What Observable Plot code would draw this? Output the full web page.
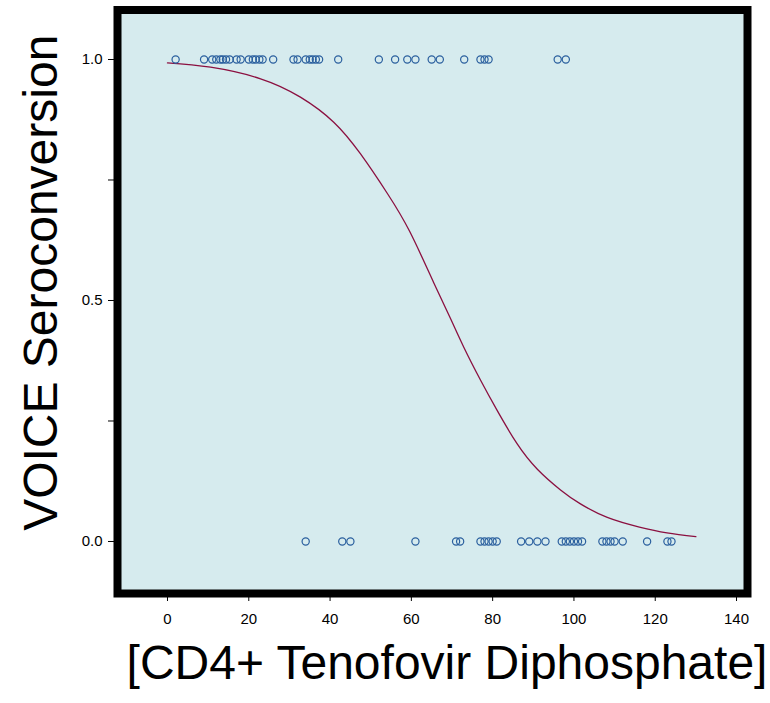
<!DOCTYPE html>
<html><head><meta charset="utf-8">
<script src="https://cdn.jsdelivr.net/npm/d3@7"></script>
<script src="https://cdn.jsdelivr.net/npm/@observablehq/plot@0.6"></script>
<style>body{margin:0;background:#fff}</style>
</head><body><div id="chart"></div>
<script>
// Observations with seroconversion = 1
const seroconvertedX = [2, 9, 11, 12, 13, 13.6, 14.4, 15.3, 17, 18, 20, 21, 21.7, 22.6, 23.4, 26, 31, 32, 34, 35, 35.7, 36.5, 37.3, 42, 52, 56, 59, 61, 65, 67, 73, 77, 78, 79, 96, 98];
// Observations with seroconversion = 0
const uninfectedX = [34, 43, 45, 61, 71, 72, 77, 78, 79, 80, 81, 87, 89, 91, 93, 97, 98, 99, 100, 101, 102, 107, 108, 109, 110, 112, 118, 123, 124];
// Fitted curve
const curveX = [0, 10.6, 22.9, 32.7, 40.9, 47.5, 54.1, 59.6, 65.5, 69.6, 72.9, 77.0, 81.1, 86.0, 91.0, 96.7, 101.6, 108.2, 116.1, 122.9, 130];
const curveY = [0.993, 0.984, 0.960, 0.922, 0.870, 0.804, 0.722, 0.643, 0.537, 0.463, 0.403, 0.335, 0.272, 0.203, 0.150, 0.107, 0.078, 0.050, 0.030, 0.018, 0.010];
const xTicks = [0, 20, 40, 60, 80, 100, 120, 140];
const yTicks = [0, 0.5, 1];
const yMinorTicks = [0.25, 0.75];
const xLabel = "[CD4+ Tenofovir Diphosphate]";
const yLabel = "VOICE Seroconversion";

const points = [
  ...seroconvertedX.map(x => ({x, y: 1})),
  ...uninfectedX.map(x => ({x, y: 0}))
];
const curve = curveX.map((x, i) => ({x, y: curveY[i]}));

const tickFont = "'Liberation Sans Narrow', 'Arial Narrow', 'Liberation Sans', Arial, sans-serif";
const labelFont = "'Liberation Sans', Arial, sans-serif";

const plot = Plot.plot({
  width: 770, height: 703,
  marginLeft: 117, marginRight: 23, marginTop: 9.5, marginBottom: 110,
  x: {domain: [-12.3, 142.7]},
  y: {domain: [-0.1079, 1.1027]},
  style: {fontFamily: tickFont, fontSize: "15px", color: "black", background: "white", overflow: "visible"},
  marks: [
    Plot.frame({fill: "#d6ebee"}),
    Plot.line(curve, {x: "x", y: "y", stroke: "#8b1040", strokeWidth: 1.3, curve: "natural"}),
    Plot.dot(points, {x: "x", y: "y", r: 3.6, stroke: "#2a5f9e", strokeWidth: 1.2, fill: "none"}),
    Plot.frame({stroke: "black", strokeWidth: 8}),
    Plot.axisX(xTicks, {tickSize: 8, tickPadding: 12, fontSize: 15, label: null}),
    Plot.axisY(yTicks, {tickSize: 9, tickPadding: 6, tickFormat: ".1f", fontSize: 15, label: null}),
    Plot.axisY(yMinorTicks, {tickSize: 9, tickFormat: () => "", label: null}),
    Plot.text([xLabel], {text: d => d, frameAnchor: "bottom", textAnchor: "middle", dx: 14.5, dy: 85, fontSize: 48, fontFamily: labelFont}),
    Plot.text([yLabel], {text: d => d, frameAnchor: "left", textAnchor: "middle", rotate: -90, dx: -76, dy: -19, fontSize: 48, fontFamily: labelFont})
  ]
});
document.getElementById("chart").append(plot);
</script>
</body></html>
